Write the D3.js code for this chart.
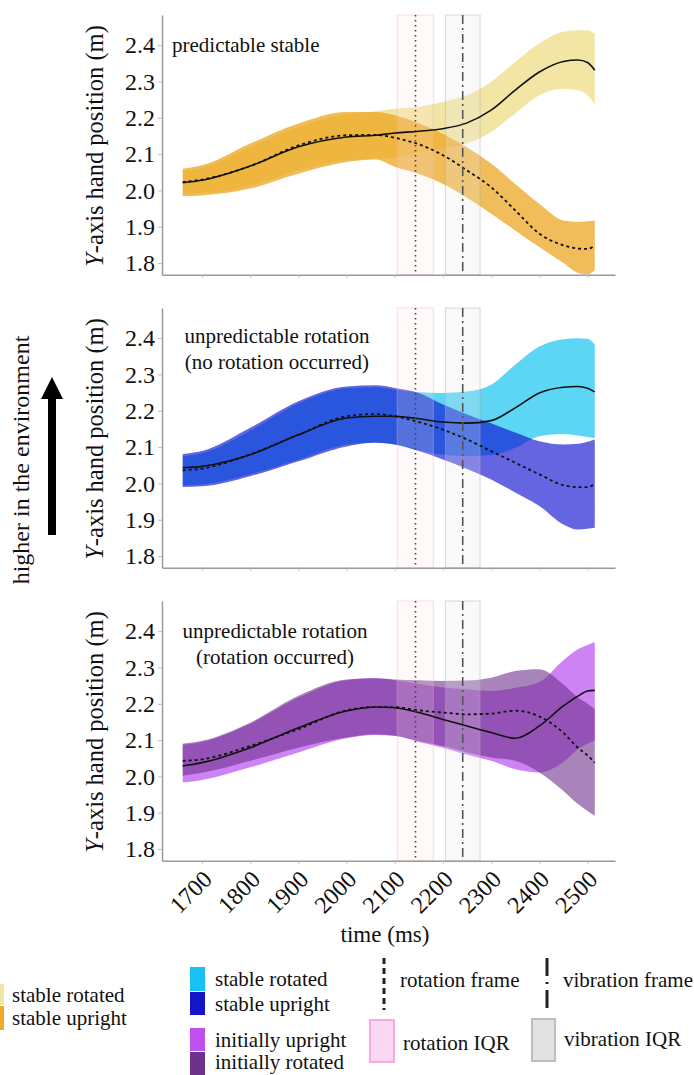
<!DOCTYPE html>
<html lang="en">
<head>
<meta charset="utf-8">
<title>Y-axis hand position</title>
<script src="https://d3js.org/d3.v7.min.js"></script>
<style>
  body { margin: 0; background: #fff; }
  text { font-family: "Liberation Serif", "Times New Roman", serif; fill: #111; }
</style>
</head>
<body>
<script>
// ---- data ----
const times = [1660, 1700, 1800, 1900, 2000, 2060, 2100, 2150, 2200, 2250, 2300, 2350, 2400, 2450, 2480, 2500, 2515];
const timeTicks = [1700, 1800, 1900, 2000, 2100, 2200, 2300, 2400, 2500];
const posTicks = [1.8, 1.9, 2.0, 2.1, 2.2, 2.3, 2.4];
const rotationIQR = [2105, 2180];
const vibrationIQR = [2205, 2277];
const rotationFrame = 2143;
const vibrationFrame = 2241;

// panel 1 : predictable stable
const stableRotMean1 = [2.021, 2.028, 2.067, 2.120, 2.147, 2.152, 2.158, 2.163, 2.170, 2.186, 2.221, 2.276, 2.326, 2.355, 2.359, 2.352, 2.331];
const stableRotHi1   = [2.055, 2.062, 2.120, 2.175, 2.210, 2.218, 2.225, 2.230, 2.244, 2.262, 2.299, 2.354, 2.405, 2.437, 2.441, 2.440, 2.432];
const stableRotLo1   = [1.990, 1.992, 2.012, 2.055, 2.083, 2.088, 2.090, 2.105, 2.115, 2.130, 2.161, 2.212, 2.262, 2.280, 2.276, 2.262, 2.236];
const stableUprMean1 = [2.023, 2.030, 2.067, 2.124, 2.152, 2.153, 2.145, 2.127, 2.097, 2.055, 2.009, 1.945, 1.881, 1.849, 1.840, 1.839, 1.849];
const stableUprHi1   = [2.060, 2.069, 2.129, 2.184, 2.216, 2.216, 2.207, 2.185, 2.156, 2.118, 2.074, 2.018, 1.963, 1.917, 1.913, 1.915, 1.917];
const stableUprLo1   = [1.984, 1.986, 2.005, 2.046, 2.078, 2.085, 2.065, 2.045, 2.018, 1.980, 1.936, 1.890, 1.844, 1.800, 1.773, 1.769, 1.780];

// panel 2 : unpredictable rotation (no rotation occurred)
const stableRotMean2 = [2.043, 2.047, 2.079, 2.134, 2.180, 2.185, 2.185, 2.178, 2.169, 2.166, 2.173, 2.208, 2.249, 2.265, 2.267, 2.262, 2.252];
const stableRotHi2   = [2.075, 2.083, 2.145, 2.220, 2.262, 2.265, 2.258, 2.251, 2.249, 2.253, 2.272, 2.327, 2.377, 2.397, 2.400, 2.398, 2.382];
const stableRotLo2   = [1.995, 1.997, 2.025, 2.065, 2.107, 2.113, 2.107, 2.090, 2.079, 2.075, 2.078, 2.098, 2.130, 2.136, 2.132, 2.128, 2.125];
const stableUprMean2 = [2.036, 2.041, 2.080, 2.134, 2.185, 2.191, 2.185, 2.169, 2.148, 2.121, 2.089, 2.057, 2.025, 1.995, 1.990, 1.990, 1.999];
const stableUprHi2   = [2.081, 2.089, 2.153, 2.226, 2.267, 2.270, 2.263, 2.249, 2.217, 2.190, 2.166, 2.140, 2.116, 2.107, 2.109, 2.115, 2.121];
const stableUprLo2   = [1.990, 1.992, 2.020, 2.061, 2.102, 2.112, 2.107, 2.089, 2.066, 2.040, 2.011, 1.975, 1.938, 1.887, 1.873, 1.875, 1.878];

// panel 3 : unpredictable rotation (rotation occurred)
const initUprMean3 = [2.029, 2.038, 2.079, 2.134, 2.180, 2.191, 2.189, 2.176, 2.157, 2.139, 2.121, 2.105, 2.139, 2.194, 2.221, 2.235, 2.237];
const initUprHi3   = [2.087, 2.095, 2.145, 2.217, 2.265, 2.270, 2.265, 2.255, 2.245, 2.240, 2.235, 2.244, 2.260, 2.320, 2.350, 2.362, 2.370];
const initUprLo3   = [1.983, 1.990, 2.025, 2.066, 2.105, 2.114, 2.112, 2.095, 2.079, 2.060, 2.043, 2.020, 2.011, 2.040, 2.075, 2.090, 2.098];
const initRotMean3 = [2.043, 2.047, 2.084, 2.130, 2.182, 2.191, 2.191, 2.182, 2.176, 2.171, 2.173, 2.181, 2.165, 2.120, 2.079, 2.058, 2.038];
const initRotHi3   = [2.090, 2.098, 2.148, 2.222, 2.267, 2.270, 2.267, 2.265, 2.263, 2.264, 2.272, 2.290, 2.295, 2.253, 2.217, 2.200, 2.185];
const initRotLo3   = [2.002, 2.010, 2.043, 2.079, 2.107, 2.116, 2.112, 2.097, 2.084, 2.066, 2.052, 2.043, 2.011, 1.960, 1.924, 1.905, 1.892];

const panelLabels = [["predictable stable"], ["unpredictable rotation", "(no rotation occurred)"], ["unpredictable rotation", "(rotation occurred)"]];

const width = 694, height = 1075;
const svg = d3.select("body").append("svg").attr("width", width).attr("height", height);

const x = d3.scaleLinear().domain([1617, 2557]).range([162, 615]);
const panelStep = 293;

const panels = [
  { back: { hi: stableRotHi1, lo: stableRotLo1, fill: "rgb(243,230,165)", op: 1 },
    front: { hi: stableUprHi1, lo: stableUprLo1, fill: "rgb(235,160,20)", op: 0.7 },
    solid: stableRotMean1, dashed: stableUprMean1,
    lab: { x: 172, anchor: "start", y: 52 } },
  { back: { hi: stableRotHi2, lo: stableRotLo2, fill: "rgb(93,213,245)", op: 1 },
    front: { hi: stableUprHi2, lo: stableUprLo2, fill: "rgb(14,14,208)", op: 0.64 },
    solid: stableRotMean2, dashed: stableUprMean2,
    lab: { x: 277, anchor: "middle", y: 343 } },
  { back: { hi: initUprHi3, lo: initUprLo3, fill: "rgb(190,90,240)", op: 0.75 },
    front: { hi: initRotHi3, lo: initRotLo3, fill: "rgb(110,50,140)", op: 0.6 },
    solid: initUprMean3, dashed: initRotMean3,
    lab: { x: 275, anchor: "middle", y: 638 } }
];

panels.forEach(function(p, i) {
  const off = i * panelStep;
  const y = d3.scaleLinear().domain([1.768, 2.483]).range([274.7 + off, 15 + off]);
  const g = svg.append("g");

  const area = function(hi, lo) {
    return d3.area().x(function(d, k) { return x(times[k]); })
      .y0(function(d, k) { return y(lo[k]); })
      .y1(function(d, k) { return y(hi[k]); })
      .curve(d3.curveMonotoneX)(times);
  };
  [p.back, p.front].forEach(function(b) {
    g.append("path").attr("d", area(b.hi, b.lo)).attr("fill", b.fill).attr("fill-opacity", b.op);
  });

  // IQR shading
  g.append("rect").attr("x", x(rotationIQR[0])).attr("width", x(rotationIQR[1]) - x(rotationIQR[0]))
    .attr("y", 15 + off).attr("height", 259.7)
    .attr("fill", "rgba(255,225,225,0.2)").attr("stroke", "rgba(245,170,170,0.4)").attr("stroke-width", 1);
  g.append("rect").attr("x", x(vibrationIQR[0])).attr("width", x(vibrationIQR[1]) - x(vibrationIQR[0]))
    .attr("y", 15 + off).attr("height", 259.7)
    .attr("fill", "rgba(230,230,230,0.25)").attr("stroke", "rgba(170,170,170,0.45)").attr("stroke-width", 1);

  const line = function(vals) {
    return d3.line().x(function(d, k) { return x(times[k]); })
      .y(function(d, k) { return y(vals[k]); })
      .curve(d3.curveMonotoneX)(times);
  };
  g.append("path").attr("d", line(p.solid)).attr("fill", "none").attr("stroke", "#111").attr("stroke-width", 1.6);
  g.append("path").attr("d", line(p.dashed)).attr("fill", "none").attr("stroke", "#111").attr("stroke-width", 1.8)
    .attr("stroke-dasharray", "3,3");

  // event frames
  g.append("line").attr("x1", x(rotationFrame)).attr("x2", x(rotationFrame)).attr("y1", 15 + off).attr("y2", 274 + off)
    .attr("stroke", "#444").attr("stroke-width", 1.6).attr("stroke-dasharray", "1.5,3.5");
  g.append("line").attr("x1", x(vibrationFrame)).attr("x2", x(vibrationFrame)).attr("y1", 15 + off).attr("y2", 274 + off)
    .attr("stroke", "#555").attr("stroke-width", 1.6).attr("stroke-dasharray", "9,4,2,4");

  // axes
  const yAxis = g.append("g").attr("transform", "translate(162,0)")
    .call(d3.axisLeft(y).tickValues(posTicks).tickFormat(d3.format(".1f")).tickSize(4).tickSizeOuter(0));
  const xAxis = g.append("g").attr("transform", "translate(0," + (274.7 + off) + ")")
    .call(d3.axisBottom(x).tickValues(timeTicks).tickFormat(d3.format("d")).tickSize(3).tickSizeOuter(0));
  [yAxis, xAxis].forEach(function(a) {
    a.select(".domain").attr("stroke", "#9a9a9a").attr("stroke-width", 1.5);
    a.selectAll(".tick line").attr("stroke", "#bbb");
  });
  yAxis.selectAll(".tick text").attr("font-size", 24).attr("font-family", "Liberation Serif").attr("fill", "#111").attr("x", -7);
  if (i < 2) {
    xAxis.selectAll(".tick text").remove();
  } else {
    xAxis.selectAll(".tick text").attr("font-size", 24).attr("font-family", "Liberation Serif").attr("fill", "#111")
      .attr("text-anchor", "end").attr("dy", null).attr("y", 0).attr("x", 0)
      .attr("transform", "translate(11,20) rotate(-45)");
  }

  // y title
  const yt = g.append("text").attr("transform", "translate(103," + (146 + off) + ") rotate(-90)")
    .attr("text-anchor", "middle").attr("font-size", 24.5);
  yt.append("tspan").attr("font-style", "italic").text("Y");
  yt.append("tspan").text("-axis hand position (m)");

  // panel label
  panelLabels[i].forEach(function(s, k) {
    g.append("text").attr("x", p.lab.x).attr("y", p.lab.y + k * 26).attr("text-anchor", p.lab.anchor)
      .attr("font-size", 21).text(s);
  });
});

svg.append("text").attr("x", 385).attr("y", 942).attr("text-anchor", "middle").attr("font-size", 23).text("time (ms)");

// left annotation
svg.append("text").attr("transform", "translate(29,460) rotate(-90)").attr("text-anchor", "middle")
  .attr("font-size", 24).text("higher in the environment");
svg.append("line").attr("x1", 52).attr("x2", 52).attr("y1", 535).attr("y2", 395)
  .attr("stroke", "#000").attr("stroke-width", 8);
svg.append("path").attr("d", "M52,377 L63,399 L41,399 Z").attr("fill", "#000");

// ---- legend ----
const legendFills = [
  { x: -11, y: 984, h: 21, fill: "rgb(243,230,165)", label: "stable rotated" },
  { x: -11, y: 1006, h: 24, fill: "rgb(240,170,40)", label: "stable upright" },
  { x: 190, y: 967, h: 24, fill: "rgb(25,192,245)", label: "stable rotated" },
  { x: 190, y: 992, h: 23, fill: "rgb(20,20,200)", label: "stable upright" },
  { x: 190, y: 1028, h: 23, fill: "rgb(190,80,240)", label: "initially upright" },
  { x: 190, y: 1052, h: 23, fill: "rgb(110,50,140)", label: "initially rotated" }
];
const lg = svg.append("g");
lg.selectAll("rect.sw").data(legendFills).enter().append("rect")
  .attr("x", function(d) { return d.x; }).attr("y", function(d) { return d.y; })
  .attr("width", 15).attr("height", function(d) { return d.h; })
  .attr("fill", function(d) { return d.fill; });
lg.selectAll("text.sw").data(legendFills).enter().append("text")
  .attr("x", function(d) { return d.x < 0 ? 12 : 215; })
  .attr("y", function(d) { return Math.min(d.y + d.h / 2 + 7, 1069); })
  .attr("font-size", 21).text(function(d) { return d.label; });

lg.append("line").attr("x1", 384).attr("x2", 384).attr("y1", 958).attr("y2", 1010)
  .attr("stroke", "#222").attr("stroke-width", 3).attr("stroke-dasharray", "6,4");
lg.append("text").attr("x", 400).attr("y", 987).attr("font-size", 21).text("rotation frame");
lg.append("line").attr("x1", 547).attr("x2", 547).attr("y1", 958).attr("y2", 1008)
  .attr("stroke", "#222").attr("stroke-width", 3).attr("stroke-dasharray", "18,6,2,6");
lg.append("text").attr("x", 563).attr("y", 987).attr("font-size", 21).text("vibration frame");

lg.append("rect").attr("x", 370).attr("y", 1020).attr("width", 24).attr("height", 42)
  .attr("fill", "rgb(250,215,242)").attr("stroke", "rgb(245,170,225)").attr("stroke-width", 2);
lg.append("text").attr("x", 403).attr("y", 1050).attr("font-size", 21).text("rotation IQR");
lg.append("rect").attr("x", 532).attr("y", 1019).attr("width", 23).attr("height", 42)
  .attr("fill", "rgb(226,226,226)").attr("stroke", "rgb(190,190,190)").attr("stroke-width", 2);
lg.append("text").attr("x", 564).attr("y", 1046).attr("font-size", 21).text("vibration IQR");
</script>
</body>
</html>
